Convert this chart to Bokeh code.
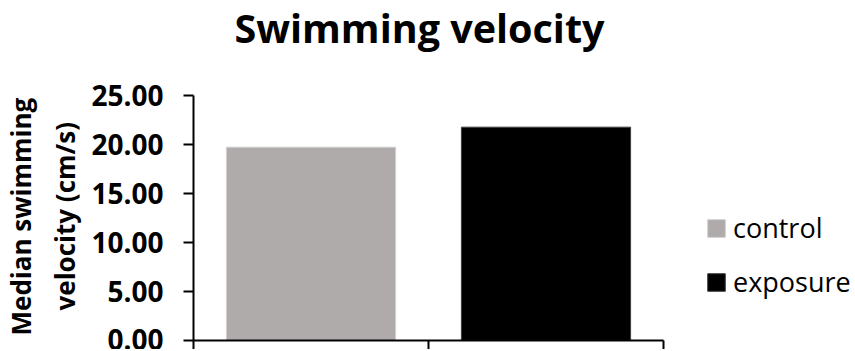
from bokeh.plotting import figure
from bokeh.models import (Range1d, FixedTicker, NumeralTickFormatter, Legend, LegendItem,
                          ColumnDataSource, CustomJSTickFormatter, Label, Title)
from bokeh.embed import file_html
from bokeh.resources import INLINE

chart_title = "Swimming velocity"
categories = ["control", "exposure"]
values = [19.72, 21.77]
colors = ["#AFABAB", "#000000"]
outline_colors = ["#D0CECE", "#404040"]
y_ticks = [0, 5, 10, 15, 20, 25]
y_max = 25
y_label_lines = ["Median swimming", "velocity (cm/s)"]

FONT = "Open Sans"

# layout (pixels)
AXIS_TOP = 95          # pixel row of the y-axis top (value y_max)
AXIS_H = 245           # pixel height of the value axis
PX_PER_UNIT = AXIS_H / y_max
TITLE_BASELINE = 27

n = len(categories)
y_end = y_max + AXIS_TOP / PX_PER_UNIT   # room above the axis for the title

p = figure(frame_width=470, frame_height=AXIS_TOP + AXIS_H, output_backend="svg",
           toolbar_location=None,
           x_range=Range1d(0, n), y_range=Range1d(0, y_end),
           min_border_left=193, min_border_right=192, min_border_top=0, min_border_bottom=5)
p.outline_line_color = None
p.grid.visible = False

title_y = y_max + (AXIS_TOP - TITLE_BASELINE) / PX_PER_UNIT
p.add_layout(Label(x=n / 2, y=title_y, text=chart_title, x_offset=-9,
                   text_align="center", text_baseline="alphabetic",
                   text_font=FONT, text_font_size="39.5px", text_font_style="bold",
                   text_color="#000000"))

items = []
for i, (cat, val, col, oc) in enumerate(zip(categories, values, colors, outline_colors)):
    src = ColumnDataSource(dict(x=[i + 0.5], top=[val]))
    r = p.vbar(x="x", top="top", width=0.72, bottom=0, source=src,
               fill_color=col, line_color=oc, line_width=1)
    items.append(LegendItem(label=cat, renderers=[r]))

# y axis
ya = p.yaxis[0]
ya.bounds = (0, y_max)
ya.ticker = FixedTicker(ticks=y_ticks)
ya.formatter = NumeralTickFormatter(format="0.00")
ya.minor_tick_line_color = None
ya.major_tick_in = 0
ya.major_tick_out = 10
ya.major_tick_line_width = 2
ya.axis_line_width = 2
ya.axis_line_color = "#000000"
ya.major_tick_line_color = "#000000"
ya.major_label_text_font = FONT
ya.major_label_text_font_size = "28px"
ya.major_label_text_font_style = "bold"
ya.major_label_text_color = "#000000"
ya.major_label_standoff = 20

# y-axis title, two lines (inner line first), positioned along the value axis
for txt, off, so in [(y_label_lines[1], 30, 12), (y_label_lines[0], 5, 0)]:
    p.add_layout(Title(text=txt, align="left", vertical_align="bottom", offset=off,
                       standoff=so, text_font=FONT, text_font_size="26px",
                       text_font_style="bold", text_color="#000000"), "left")

# x axis
xa = p.xaxis[0]
xa.ticker = FixedTicker(ticks=list(range(n + 1)))
xa.formatter = CustomJSTickFormatter(code="return ''")
xa.minor_tick_line_color = None
xa.major_tick_in = 0
xa.major_tick_out = 9
xa.major_tick_line_width = 2
xa.axis_line_width = 2
xa.axis_line_color = "#000000"
xa.major_tick_line_color = "#000000"
xa.major_label_standoff = 0

legend = Legend(items=items, location=(42, 40), orientation="vertical",
                glyph_width=22, glyph_height=22, label_height=30, spacing=17,
                padding=0, margin=0, border_line_color=None, background_fill_alpha=0,
                label_text_font=FONT, label_text_font_size="27px", label_text_color="#000000",
                label_standoff=6)
p.add_layout(legend, "right")

open("out.html", "w").write(file_html(p, INLINE))
